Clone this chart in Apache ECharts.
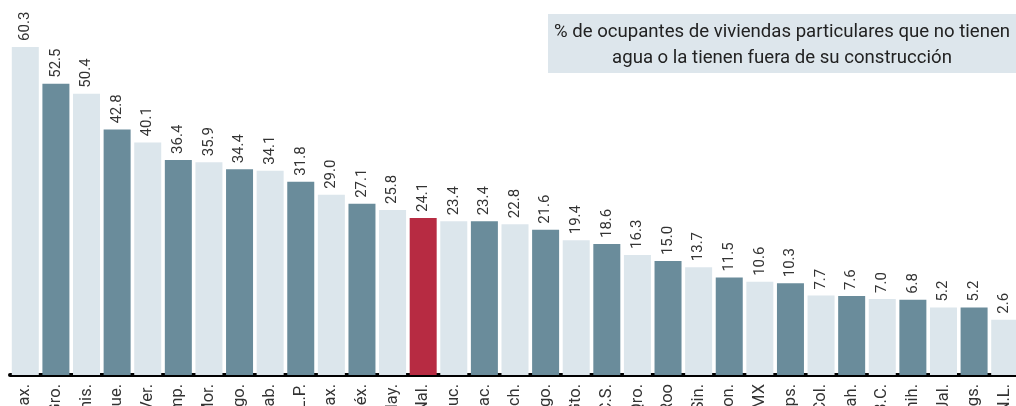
<!DOCTYPE html>
<html>
<head>
<meta charset="utf-8">
<script src="https://cdn.jsdelivr.net/npm/echarts@6/dist/echarts.min.js"></script>
<style>
	html, body { margin: 0; padding: 0; background: #fff; }
	#chartDiv { width: 1016px; height: 406px; }
</style>
</head>
<body>
<div id="chartDiv"></div>
<script>
var states = ['Oax.', 'Gro.', 'Chis.', 'Pue.', 'Ver.', 'Camp.', 'Mor.', 'Hgo.', 'Tab.', 'S.L.P.', 'Tlax.',
	'Méx.', 'Nay.', 'Nal.', 'Yuc.', 'Zac.', 'Mich.', 'Dgo.', 'Gto.', 'B.C.S.', 'Qro.', 'Q.Roo',
	'Sin.', 'Son.', 'CDMX', 'Tamps.', 'Col.', 'Coah.', 'B.C.', 'Chih.', 'Jal.', 'Ags.', 'N.L.'];
var values = [60.3, 52.5, 50.4, 42.8, 40.1, 36.4, 35.9, 34.4, 34.1, 31.8, 29.0,
	27.1, 25.8, 24.1, 23.4, 23.4, 22.8, 21.6, 19.4, 18.6, 16.3, 15.0,
	13.7, 11.5, 10.6, 10.3, 7.7, 7.6, 7.0, 6.8, 5.2, 5.2, 2.6];
var nationalLabel = 'Nal.';
var titleLines = ['% de ocupantes de viviendas particulares que no tienen', 'agua o la tienen fuera de su construcción'];

var colLight = '#dce6ec';
var colDark = '#6a8c9b';
var colNational = '#b72b42';
var fontName = 'Roboto';
var barWidth = 27;

var chart = echarts.init(document.getElementById('chartDiv'));

function barColor(i) {
	if (states[i] == nationalLabel) return colNational;
	return i % 2 == 0 ? colLight : colDark;
}

// bars rise from the bottom of the plot (the axis does not start at 0)
function renderBar(params, api) {
	var v = api.value(1);
	var top = api.coord([api.value(0), v]);
	var cs = params.coordSys;
	var bottom = cs.y + cs.height;
	return {
		type: 'group',
		children: [
			{
				type: 'rect',
				shape: { x: top[0] - barWidth / 2, y: top[1], width: barWidth, height: bottom - top[1] },
				style: { fill: barColor(params.dataIndex) }
			},
			{
				type: 'text',
				x: top[0], y: top[1] - 6,
				rotation: Math.PI / 2,
				style: {
					text: v.toFixed(1), align: 'left', verticalAlign: 'middle',
					font: '15px ' + fontName, fill: '#333'
				}
			}
		]
	};
}

var barData = [];
for (var i = 0; i < values.length; i++) {
	barData.push([i, values[i]]);
}

var option = {
	animation: false,
	grid: { left: 10, right: -4, top: 10, bottom: 31, containLabel: false, outerBoundsMode: 'none' },
	graphic: [
		{ type: 'rect', left: 548, top: 14, shape: { width: 470, height: 59 }, style: { fill: '#dde6ec' } },
		{
			type: 'text', x: 782, y: 19,
			style: {
				text: titleLines.join('\n'), align: 'center', verticalAlign: 'top',
				font: '18.6px Roboto', lineHeight: 26, fill: '#222'
			}
		}
	],
	xAxis: {
		type: 'category',
		data: states,
		axisLine: { onZero: false, lineStyle: { color: '#000', width: 4 } },
		axisTick: { show: false },
		axisLabel: { rotate: 90, margin: 9, color: '#333', fontSize: 16.5, fontFamily: fontName, interval: 0 }
	},
	yAxis: {
		type: 'value',
		min: -9.1,
		max: 68.1,
		show: false
	},
	series: [{
		type: 'custom',
		renderItem: renderBar,
		data: barData,
		encode: { x: 0, y: 1 },
		clip: false,
		z: 1
	}]
};
chart.setOption(option);
</script>
</body>
</html>
